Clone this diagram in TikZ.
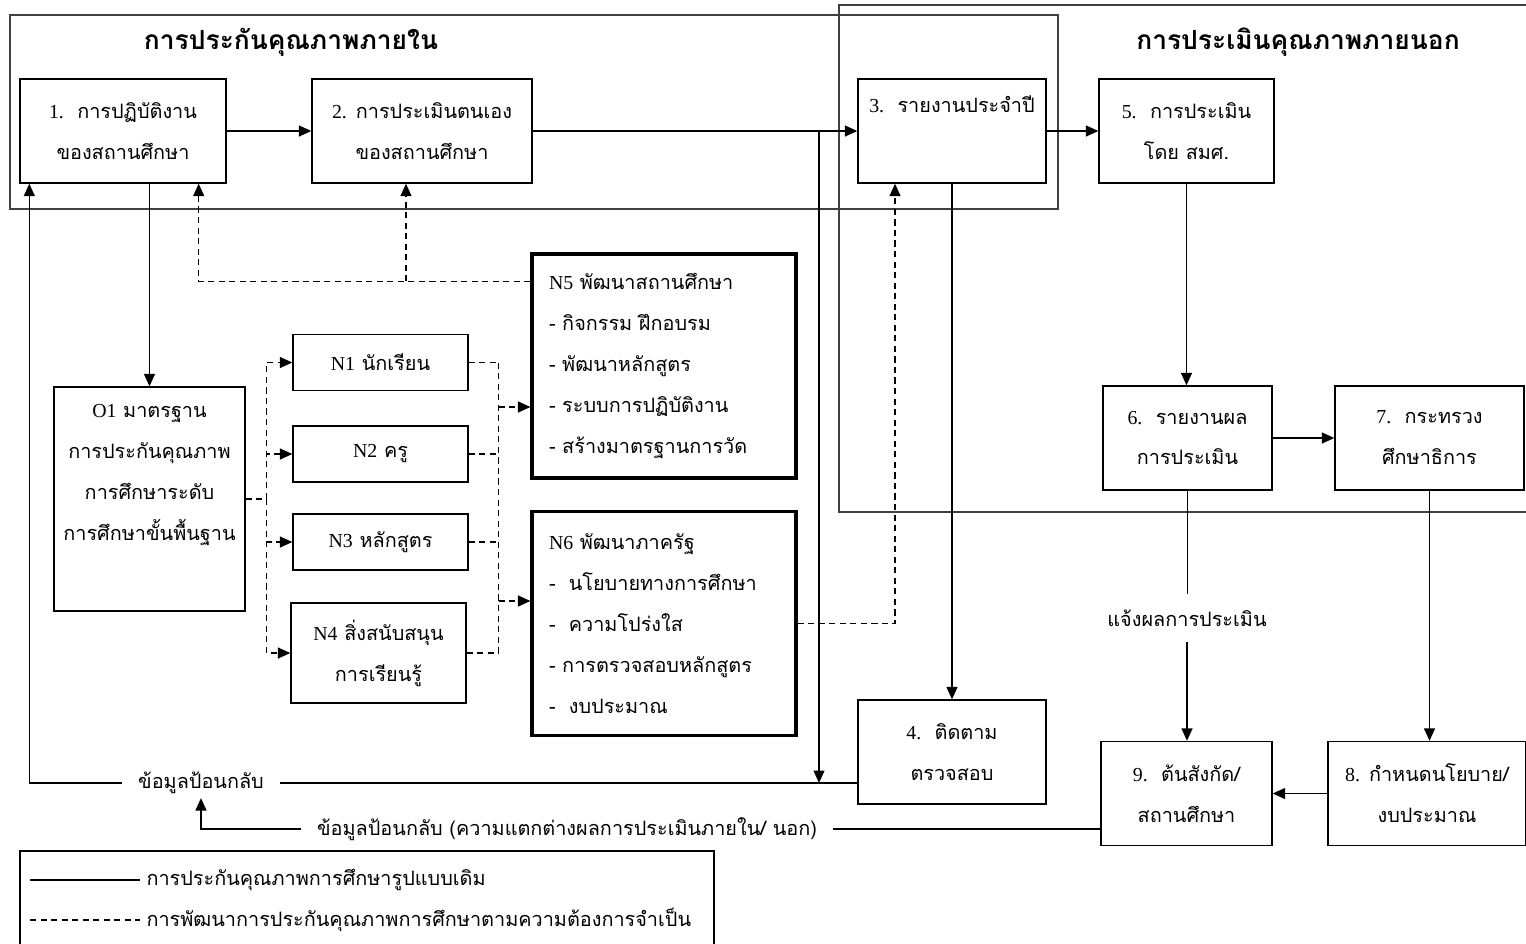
\documentclass[tikz,border=0pt]{standalone}
\usepackage{fontspec}
\setmainfont{Liberation Serif}
\newfontfamily\thaifont[Script=Thai]{Loma}
\usetikzlibrary{arrows.meta}
\newcommand\latn[1]{{\rmfamily #1}}

\begin{document}
\begin{tikzpicture}[x=0.02cm,y=-0.02cm,>={Triangle[length=0.25cm,width=0.22cm]},line width=0.8pt,
    txt/.style={font=\thaifont\fontsize{11.3}{23.3}\selectfont,align=center},
    box/.style={txt,draw,minimum height=2.08cm,inner sep=2pt},
    nbox/.style={txt,draw,minimum width=3.5cm,minimum height=1.12cm},
    bigbox/.style={txt,draw,line width=1.8pt,align=left,minimum height=4.48cm,text width=4.6cm,inner xsep=0.34cm},
    title/.style={font=\thaifont\bfseries\fontsize{15}{18}\selectfont},
    dsh/.style={dash pattern=on 3.5pt off 2.5pt},
    lbl/.style={txt,inner xsep=0.3cm,inner ysep=2pt}]
  \useasboundingbox (0,0) rectangle (1526,944);
  \draw[black!75] (10,15) rectangle (1058,209);
  \draw[black!75] (839,5) rectangle (1530,512);
  \node[title] (t1) at (291,42) {การประกันคุณภาพภายใน};
  \node[title] (t2) at (1298,42) {การประเมินคุณภาพภายนอก};

  \node[box,minimum width=4.12cm] (b1) at (123,131) {\latn{1.}\ \ การปฏิบัติงาน\\ของสถานศึกษา};
  \node[box,minimum width=4.4cm] (b2) at (422,131) {\latn{2.} การประเมินตนเอง\\ของสถานศึกษา};
  \node[box,minimum width=3.76cm] (b3) at (952,131) {\latn{3.}\ \ รายงานประจำปี\\\strut};
  \node[box,minimum width=3.5cm] (b5) at (1186.5,131) {\latn{5.}\ \ การประเมิน\\โดย สมศ.};
  \node[box,minimum width=3.38cm] (b6) at (1187.5,438) {\latn{6.}\ \ รายงานผล\\การประเมิน};
  \node[box,minimum width=3.78cm] (b7) at (1429.5,438) {\latn{7.}\ \ กระทรวง\\ศึกษาธิการ};
  \node[box,minimum width=3.76cm] (b4) at (952,752) {\latn{4.}\ \ ติดตาม\\ตรวจสอบ};
  \node[box,minimum width=3.42cm] (b9) at (1186.5,793.5) {\latn{9.}\ \ ต้นสังกัด/\\สถานศึกษา};
  \node[box,minimum width=3.96cm] (b8) at (1427,793.5) {\latn{8.} กำหนดนโยบาย/\\งบประมาณ};

  \node[box,minimum width=3.82cm,minimum height=4.48cm] (o1) at (149.5,499)
    {\latn{O1} มาตรฐาน\\การประกันคุณภาพ\\การศึกษาระดับ\\การศึกษาขั้นพื้นฐาน\\\strut};
  \node[nbox] (n1) at (380.5,362.5) {\latn{N1}\ นักเรียน};
  \node[nbox] (n2) at (380.5,454) {\latn{N2}\ ครู};
  \node[nbox] (n3) at (380.5,542) {\latn{N3} หลักสูตร};
  \node[nbox,minimum height=2cm] (n4) at (378.5,653) {\latn{N4} สิ่งสนับสนุน\\การเรียนรู้};
  \node[bigbox] (n5) at (664,366) {\latn{N5} พัฒนาสถานศึกษา\\- กิจกรรม ฝึกอบรม\\- พัฒนาหลักสูตร\\- ระบบการปฏิบัติงาน\\- สร้างมาตรฐานการวัด};
  \node[bigbox] (n6) at (664,623.5) {\latn{N6} พัฒนาภาครัฐ\\-\ \ นโยบายทางการศึกษา\\-\ \ ความโปร่งใส\\- การตรวจสอบหลักสูตร\\-\ \ งบประมาณ};

  \node[lbl] (fb1) at (201,783) {ข้อมูลป้อนกลับ};
  \node[lbl] (fb2) at (567,829) {ข้อมูลป้อนกลับ (ความแตกต่างผลการประเมินภายใน/ นอก)};
  \node[lbl,inner ysep=0.3cm] (ntf) at (1187,618) {แจ้งผลการประเมิน};

  \draw[->] (b1) -- (b2);
  \draw[->] (b2) -- (b3);
  \draw[->] (b3) -- (b5);
  \draw[->] (b3) -- (b4);
  \draw[->] (b5) -- (b5 |- b6.north);
  \draw[->] (b6) -- (b7);
  \draw (b6.south) -- (b6.south |- ntf.north);
  \draw[->] (ntf.south) -- (ntf.south |- b9.north);
  \draw[->] (b7) -- (b7 |- b8.north);
  \draw[->] (b8) -- (b9);
  \draw[->] (o1 |- b1.south) -- (o1.north);

  \coordinate (j1) at (819,0);
  \coordinate (fbx) at ([xshift=0.2cm]b1.south west);
  \draw[->] (j1 |- b2.east) -- (j1 |- fb1);
  \draw (fb1.east) -- (fb1 -| b4.west);
  \draw[->] (fb1.west) -| (fbx);
  \draw (fb2.east) -- (fb2 -| b9.west);
  \draw[->] (fb2.west) -| (fb1.south);

  \coordinate (d5) at ([yshift=-0.58cm]n5.north west);
  \coordinate (u1) at ([xshift=-0.56cm]b1.south east);
  \coordinate (u2) at ([xshift=-0.32cm]b2.south);
  \coordinate (u3) at ([xshift=-1.14cm]b3.south);
  \draw[dsh,->] (d5) -| (u1);
  \draw[dsh,->] (u2 |- d5) -- (u2);
  \draw[dsh,->] (n6.east) -| (u3);

  \coordinate (busL) at ([xshift=0.42cm]o1.east);
  \foreach \n in {n1,n2,n3,n4}
    \draw[dsh,->] (o1.east) -- (busL) |- (\n.west);
  \coordinate (busR) at ([xshift=0.6cm]n1.east);
  \foreach \n in {n1,n2,n3,n4}
    \draw[dsh] (\n.east) -- (busR |- \n.east);
  \draw[dsh] (busR) -- (busR |- n4.east);
  \coordinate (a5) at ([yshift=-0.82cm]n5.west);
  \coordinate (a6) at ([yshift=0.45cm]n6.west);
  \draw[dsh,->] (busR |- a5) -- (a5);
  \draw[dsh,->] (busR |- a6) -- (a6);

  \draw (20,851) rectangle (714,960);
  \node[txt,anchor=west] (lg1) at (140,880) {การประกันคุณภาพการศึกษารูปแบบเดิม};
  \node[txt,anchor=west] (lg2) at (140,920) {การพัฒนาการประกันคุณภาพการศึกษาตามความต้องการจำเป็น};
  \coordinate (ls1) at (30,880);
  \coordinate (ls2) at (30,920);
  \draw (ls1) -- (lg1.west);
  \draw[dsh] (ls2) -- (lg2.west);
\end{tikzpicture}
\end{document}
